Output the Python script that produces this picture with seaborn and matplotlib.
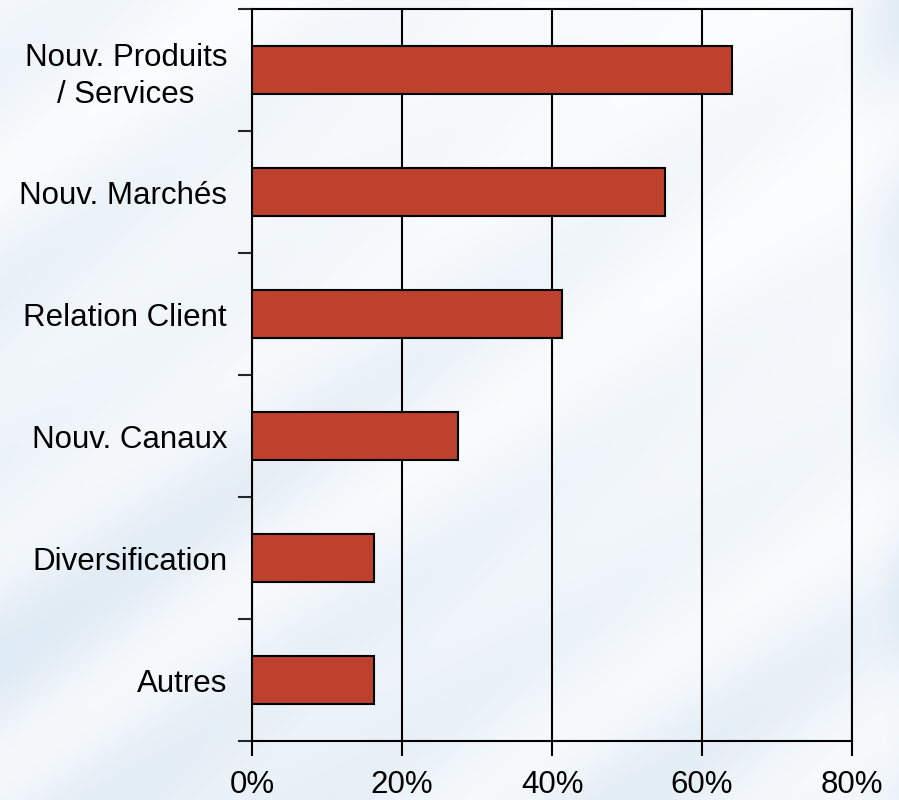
import numpy as np
import matplotlib
matplotlib.use("Agg")
import matplotlib.pyplot as plt
import seaborn as sns

# data (percent of respondents)
categories = ["Nouv. Produits\n/ Services", "Nouv. Marchés", "Relation Client",
              "Nouv. Canaux", "Diversification", "Autres"]
values = [64.0, 55.0, 41.3, 27.5, 16.3, 16.3]
x_ticks = [0, 20, 40, 60, 80]
x_labels = ["0%", "20%", "40%", "60%", "80%"]

sns.set_style("white")
plt.rcParams["font.family"] = ["Liberation Sans", "DejaVu Sans"]

fig = plt.figure(figsize=(8.99, 8.0), dpi=100)

# light blue background with diagonal white streaks
bg = fig.add_axes([0, 0, 1, 1], zorder=0)
yy, xx = np.mgrid[0:800, 0:899]
t = xx * 0.72 + yy
streak = 0.5 + 0.5 * np.sin(t / 38.0) * np.sin(t / 170.0 + 0.6)
fade = np.clip(0.45 + 0.5 * (yy / 800.0) - 0.3 * (xx / 899.0), 0, 1)
fade = np.maximum(fade, np.clip((xx - 820) / 80.0, 0, 1) * 0.8)
mix = np.clip(fade * (0.25 + 0.75 * streak), 0, 1)
white = np.array([1.0, 1.0, 1.0])
blue = np.array([0.85, 0.905, 0.95])
img = white[None, None, :] * (1 - mix[..., None]) + blue[None, None, :] * mix[..., None]
bg.imshow(img, aspect="auto", extent=[0, 1, 0, 1])
bg.axis("off")

ax = fig.add_axes([252 / 899, 59 / 800, 600 / 899, 732 / 800], zorder=1)
ax.patch.set_alpha(0)

sns.barplot(x=values, y=categories, orient="h", color="#BD412D", saturation=1,
            edgecolor="black", linewidth=1.5, width=0.4, ax=ax, zorder=3)

ax.set_xlim(0, 80)
ax.set_ylim(5.5, -0.5)
ax.set_xticks(x_ticks)
ax.set_xticklabels(x_labels)
ax.set_yticks(np.arange(-0.5, 6, 1))
ax.set_yticklabels([])
ax.set_yticks(range(len(categories)), minor=True)
ax.set_yticklabels(categories, minor=True)
for lab in ax.get_yticklabels(minor=True):
    lab.set_multialignment("center")
    lab.set_linespacing(1.3)

ax.xaxis.grid(True, color="black", linewidth=1.5)
ax.set_axisbelow(True)
for s in ax.spines.values():
    s.set_visible(True)
    s.set_color("black")
    s.set_linewidth(1.5)

ax.tick_params(axis="x", length=11, width=1.5, pad=10, labelsize=22.5, colors="black", bottom=True)
ax.tick_params(axis="y", which="major", length=10, width=1.5, left=True)
ax.tick_params(axis="y", which="minor", length=0, pad=18, labelsize=22.5, colors="black")
ax.set_xlabel("")
ax.set_ylabel("")

fig.savefig("out.png", dpi=100)
